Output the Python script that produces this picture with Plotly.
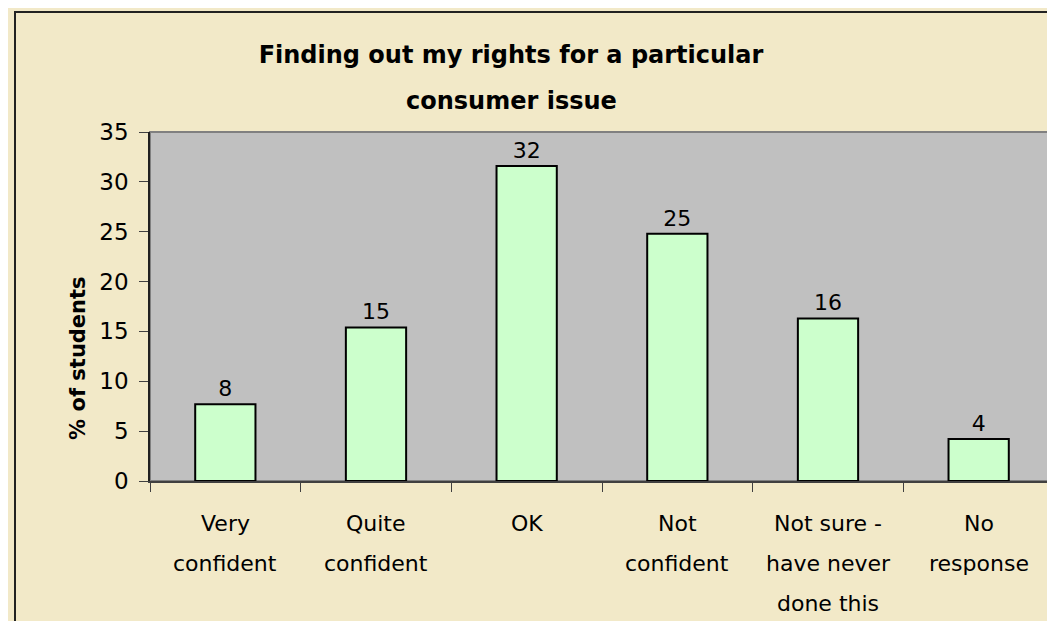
import plotly.graph_objects as go

# survey responses, % of students
categories = ["Very confident", "Quite confident", "OK", "Not confident",
              "Not sure - have never done this", "No response"]
label_lines = [["Very", "confident"], ["Quite", "confident"], ["OK"],
               ["Not", "confident"], ["Not sure -", "have never", "done this"],
               ["No", "response"]]
percent = [7.7, 15.4, 31.6, 24.8, 16.3, 4.2]
percent_labels = ["8", "15", "32", "25", "16", "4"]
y_ticks = [0, 5, 10, 15, 20, 25, 30, 35]

FONT = "DejaVu Sans, Verdana, sans-serif"
BG = "#F2E9C8"

fig = go.Figure(go.Bar(
    x=categories,
    y=percent,
    width=0.4,
    marker=dict(color="#CCFFCC", line=dict(color="black", width=2)),
    text=percent_labels,
    textposition="outside",
    textfont=dict(size=22, color="black", family=FONT),
    cliponaxis=False,
))

# category labels drawn line by line (Excel uses wide line spacing)
annotations = []
for cat, lines in zip(categories, label_lines):
    for i, line in enumerate(lines):
        annotations.append(dict(
            x=cat, xref="x", y=0, yref="paper", yanchor="middle",
            yshift=-42 - 40 * i, text=line, showarrow=False,
            font=dict(size=22, color="black", family=FONT),
        ))

annotations.append(dict(
    x=(503 - 142) / 904, xref="paper", y=1, yref="paper", yanchor="middle",
    yshift=124 - 93, text="<b>consumer issue</b>", showarrow=False,
    font=dict(size=24, color="black", family=FONT),
))
annotations.append(dict(
    x=-0.0951, xref="paper", y=0.35, yref="paper", textangle=-90,
    text="<b>% of students</b>", showarrow=False,
    font=dict(size=21, color="black", family=FONT),
))

fig.update_layout(
    width=1055, height=621,
    margin=dict(l=142, r=9, t=124, b=148),
    paper_bgcolor=BG,
    plot_bgcolor="#C0C0C0",
    showlegend=False,
    title=dict(
        text="<b>Finding out my rights for a particular</b>",
        x=(503 - 142) / 904, xref="paper", xanchor="center",
        y=1 - 47 / 621, yref="container", yanchor="middle",
        font=dict(size=24, color="black", family=FONT),
    ),
    annotations=annotations,
    shapes=[
        dict(type="rect", xref="paper", yref="paper", x0=0, x1=1, y0=0, y1=1,
             line=dict(color="#808080", width=2), layer="below"),
        dict(type="rect", xref="paper", yref="paper",
             x0=(7 - 142) / 904, x1=1.2, y0=-0.6, y1=(473 - 4) / 349,
             line=dict(color="#222222", width=2)),
    ],
)

fig.update_xaxes(
    showticklabels=False, showgrid=False, zeroline=False,
    showline=True, linecolor="#404040", linewidth=1.5,
    ticks="outside", tickson="boundaries", ticklen=9, tickcolor="#404040",
)
fig.update_yaxes(
    range=[0, 35], tickvals=y_ticks, showgrid=False, zeroline=False,
    showline=True, linecolor="#202020", linewidth=1.5,
    ticks="outside", ticklen=9, tickcolor="#404040", ticklabelstandoff=6,
    tickfont=dict(size=23, color="black", family=FONT),
)

fig.write_html("out.html")
